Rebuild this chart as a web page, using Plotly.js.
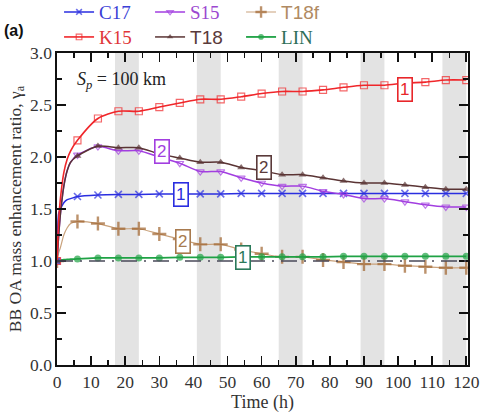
<!DOCTYPE html>
<html><head><meta charset="utf-8">
<script src="https://cdn.plot.ly/plotly-3.0.1.min.js"></script>
<style>html,body{margin:0;padding:0;background:#fff}#chart{width:481px;height:416px}</style>
</head><body><div id="chart"></div>
<script>
// Time (h): early model output + 6-hourly points
const time = [0,0.5,1,2,3,4,6,12,18,24,30,36,42,48,54,60,66,72,78,84,90,96,102,108,114,120];
const C17  = [1.0,1.46,1.50,1.56,1.59,1.60,1.62,1.635,1.64,1.64,1.645,1.645,1.645,1.645,1.65,1.65,1.65,1.65,1.65,1.65,1.65,1.65,1.65,1.65,1.65,1.65];
const K15  = [1.0,1.40,1.60,1.85,1.98,2.06,2.16,2.37,2.44,2.44,2.48,2.52,2.555,2.555,2.58,2.61,2.63,2.63,2.645,2.67,2.69,2.69,2.71,2.72,2.74,2.74];
const S15  = [1.0,1.25,1.45,1.72,1.87,1.95,2.02,2.10,2.06,2.06,2.00,1.94,1.86,1.86,1.80,1.75,1.72,1.72,1.67,1.64,1.60,1.60,1.57,1.54,1.52,1.52];
const T18  = [1.0,1.25,1.45,1.72,1.87,1.95,2.01,2.105,2.09,2.09,2.03,1.99,1.95,1.95,1.90,1.87,1.83,1.83,1.80,1.77,1.75,1.75,1.73,1.71,1.69,1.69];
const T18f = [1.0,1.08,1.13,1.25,1.32,1.36,1.38,1.36,1.31,1.31,1.26,1.21,1.16,1.16,1.11,1.07,1.04,1.04,1.01,0.99,0.97,0.97,0.955,0.945,0.935,0.935];
const LIN  = [1.0,1.005,1.01,1.012,1.015,1.017,1.02,1.03,1.03,1.03,1.03,1.035,1.035,1.035,1.04,1.04,1.04,1.04,1.04,1.045,1.045,1.045,1.045,1.045,1.045,1.045];
const seriesNames = ["C17","S15","T18f","K15","T18","LIN"];
const nightStart = [17,41,65,89,113];
const nightEnd   = [24,48,72,96,120];
const baseline = 1.0;
// label boxes: [series, text, time, value]
const labels = [["K15","1",102,2.65],["S15","2",30.7,2.05],["T18","2",60.8,1.90],["C17","1",36.4,1.635],["T18f","2",37,1.185],["LIN","1",54.6,1.03]];

const SERIF = "'Liberation Serif', 'Times New Roman', Times, serif";
const SANS = "'Liberation Sans', Arial, sans-serif";
const values = {C17, K15, S15, T18, T18f, LIN};
const style = {
  C17:  {c:"#2a2ee0", lc:"#2a2ee0", sym:"x-thin-open", ms:7, mw:1.6, lw:1.5, lab:"#2a2ee0"},
  S15:  {c:"#a23ee0", lc:"#a23ee0", sym:"triangle-down-open", ms:7, mw:1.2, lw:1.5, lab:"#a23ee0"},
  T18f: {c:"#a0642e", lc:"#c9a27c", sym:"cross-thin-open", ms:10, mw:2.4, lw:1.2, lab:"#a87a4e"},
  K15:  {c:"#f0262a", lc:"#f0262a", sym:"square-open", ms:7, mw:1.2, lw:1.6, lab:"#e8262a"},
  T18:  {c:"#5a3434", lc:"#5a3434", sym:"triangle-up", ms:7, mw:0, lw:1.5, lab:"#5a3a3a"},
  LIN:  {c:"#1fa245", lc:"#1fa245", sym:"circle", ms:7, mw:0, lw:1.8, lab:"#2a7a5a"}
};
const legendText = {C17:"#3b3fd6", S15:"#9c48d0", T18f:"#b08a62", K15:"#e0363a", T18:"#5a3a3a", LIN:"#2e6e58"};
const legendFont = {C17:SERIF, S15:SERIF, T18f:SANS, K15:SERIF, T18:SANS, LIN:SERIF};
const drawOrder = ["T18f","LIN","C17","S15","T18","K15"];
const traces = [];
drawOrder.forEach(n => {
  const s = style[n];
  const sizes = time.map(t => (t % 6 === 0) ? s.ms : 0);
  traces.push({
    x: time, y: values[n], type: "scatter", mode: "lines+markers",
    name: '<span style="color:' + legendText[n] + ';font-family:' + legendFont[n].replace(/'/g, "") + '">' + n + '</span>',
    line: {color: s.lc, width: s.lw, shape: "spline", smoothing: 0.7},
    marker: {symbol: s.sym, size: sizes, color: s.c, line: {color: s.c, width: s.mw}},
    legend: (["C17","S15","T18f"].indexOf(n) >= 0) ? "legend" : "legend2",
    legendrank: seriesNames.indexOf(n) + 1,
    hoverinfo: "skip"
  });
});

const shapes = nightStart.map((a, i) => ({type:"rect", xref:"x", yref:"paper", x0:a, x1:nightEnd[i], y0:0, y1:1, fillcolor:"#e3e3e3", line:{width:0}, layer:"below"}));
shapes.push({type:"line", xref:"paper", yref:"y", x0:0, x1:1, y0:baseline, y1:baseline, line:{color:"#4a4a5a", width:1.6, dash:"16px,7px,2px,7px"}, layer:"above"});

const annotations = labels.map(l => ({x:l[2], y:l[3], xref:"x", yref:"y", text:l[1], showarrow:false,
  font:{family:SANS, size:17, color:style[l[0]].lab},
  bgcolor:"#ffffff", bordercolor:style[l[0]].lab, borderwidth:1.6, borderpad:1.5}));
annotations.push({x:0.158, y:0.913, xref:"paper", yref:"paper", xanchor:"center", yanchor:"middle", text:"<i>S<sub>p</sub></i> = 100 km", showarrow:false,
  font:{family:SERIF, size:18, color:"#222"}});
annotations.push({x:-0.134, y:1.072, xref:"paper", yref:"paper", xanchor:"left", yanchor:"middle", text:"<b>(a)</b>", showarrow:false,
  font:{family:SANS, size:16, color:"#111"}});

const axisCommon = {showgrid:false, zeroline:false, showline:true, linecolor:"#111", linewidth:1.6, mirror:"allticks",
  ticks:"inside", ticklen:9, tickwidth:1.6, tickcolor:"#111", tickfont:{family:SERIF, size:17.5, color:"#333"}};
const layout = {
  width:481, height:416, margin:{l:57, r:13, t:53, b:51, autoexpand:false},
  font:{family:SERIF},
  paper_bgcolor:"#fff", plot_bgcolor:"#fff", showlegend:true,
  xaxis: Object.assign({}, axisCommon, {range:[0,120.5], tick0:0, dtick:10, automargin:false, minor:{dtick:5, ticks:"inside", ticklen:5, tickwidth:1.4, tickcolor:"#111"},
    title:{text:"Time (h)", font:{family:SERIF, size:18, color:"#333"}, standoff:2}}),
  yaxis: Object.assign({}, axisCommon, {range:[0,3], tick0:0, dtick:0.5, tickformat:".1f", automargin:false, minor:{dtick:0.25, ticks:"inside", ticklen:5, tickwidth:1.4, tickcolor:"#111"},
    title:{text:"BB OA mass enhancement ratio, γ<sub>a</sub>", font:{family:SERIF, size:17.5, color:"#333"}, standoff:4}}),
  legend: {orientation:"h", x:0.005, y:1.131, xanchor:"left", yanchor:"middle", bgcolor:"rgba(0,0,0,0)", font:{family:SERIF, size:19}, entrywidth:46, entrywidthmode:"pixels", itemwidth:30, traceorder:"normal"},
  legend2: {orientation:"h", x:0.005, y:1.051, xanchor:"left", yanchor:"middle", bgcolor:"rgba(0,0,0,0)", font:{family:SERIF, size:19}, entrywidth:46, entrywidthmode:"pixels", itemwidth:30, traceorder:"normal"},
  shapes, annotations
};
Plotly.newPlot("chart", traces, layout, {displayModeBar:false, staticPlot:true});
</script></body></html>
